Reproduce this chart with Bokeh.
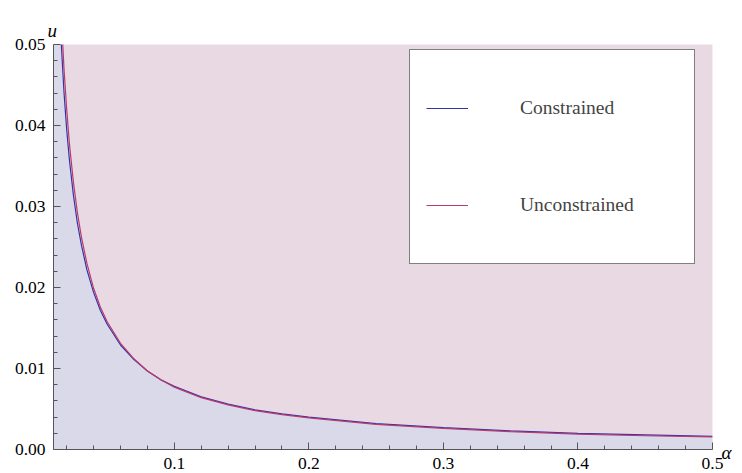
from bokeh.plotting import figure
from bokeh.models import (Range1d, FixedTicker, PrintfTickFormatter, Legend,
                          LegendItem, ColumnDataSource, Title, LinearAxis)
from bokeh.embed import file_html
from bokeh.resources import INLINE

# ---- data ----
alpha = [0.010, 0.012, 0.014, 0.016, 0.018, 0.020, 0.022, 0.025, 0.028, 0.031,
         0.035, 0.040, 0.045, 0.050, 0.060, 0.070, 0.080, 0.090, 0.100, 0.120,
         0.140, 0.160, 0.180, 0.200, 0.250, 0.300, 0.350, 0.400, 0.450, 0.500]
u_constrained = [0.0790, 0.0660, 0.0568, 0.0500, 0.0441, 0.0395, 0.0358, 0.0314,
                 0.0279, 0.0252, 0.0222, 0.0194, 0.0172, 0.0155, 0.0129, 0.0111,
                 0.0097, 0.0086, 0.0078, 0.0065, 0.0056, 0.0049, 0.0044, 0.0040,
                 0.0032, 0.0027, 0.0023, 0.0020, 0.0018, 0.00163]
u_unconstrained = [0.0850, 0.0710, 0.0610, 0.0535, 0.0470, 0.0420, 0.0378, 0.0330,
                   0.0292, 0.0262, 0.0230, 0.0199, 0.0176, 0.0158, 0.0131, 0.0112,
                   0.0097, 0.0086, 0.0077, 0.0064, 0.0055, 0.0048, 0.0043, 0.0039,
                   0.0031, 0.0026, 0.0022, 0.0019, 0.0017, 0.00155]
series_names = ["Constrained", "Unconstrained"]
x_label = "α"
y_label = "u"

x_major_ticks = [0.1, 0.2, 0.3, 0.4, 0.5]
x_minor_ticks = [0.02, 0.04, 0.06, 0.08, 0.12, 0.14, 0.16, 0.18, 0.22, 0.24, 0.26,
                 0.28, 0.32, 0.34, 0.36, 0.38, 0.42, 0.44, 0.46, 0.48]
y_major_ticks = [0.0, 0.01, 0.02, 0.03, 0.04, 0.05]
y_minor_ticks = [0.002, 0.004, 0.006, 0.008, 0.012, 0.014, 0.016, 0.018, 0.022,
                 0.024, 0.026, 0.028, 0.032, 0.034, 0.036, 0.038, 0.042, 0.044,
                 0.046, 0.048]

# ---- styles ----
FONT = "Liberation Serif"
BLUE = "#3333a6"
RED = "#b83a6e"
PINK = "#e9d9e3"
LAVENDER = "#d9d9ea"
AXIS = "#555555"

src = ColumnDataSource(dict(a=alpha, uc=u_constrained, uu=u_unconstrained,
                            zero=[0.0] * len(alpha)))

p = figure(width=742, height=473,
           x_range=Range1d(0.0102, 0.5), y_range=Range1d(0.0, 0.05),
           output_backend="svg", toolbar_location=None,
           min_border_left=53, min_border_right=30, min_border_top=44,
           min_border_bottom=24)
p.background_fill_color = PINK
p.border_fill_color = "white"
p.outline_line_color = None
p.grid.visible = False

p.varea(x="a", y1="zero", y2="uc", source=src, fill_color=LAVENDER, fill_alpha=1.0)
r_c = p.line(x="a", y="uc", source=src, line_color=BLUE, line_width=1.2)
r_u = p.line(x="a", y="uu", source=src, line_color=RED, line_width=1.2)

for ax in (p.xaxis[0], p.yaxis[0]):
    ax.axis_line_color = AXIS
    ax.major_tick_line_color = AXIS
    ax.minor_tick_line_color = AXIS
    ax.major_tick_out = 0
    ax.minor_tick_out = 0
    ax.major_tick_in = 7
    ax.minor_tick_in = 4
    ax.major_label_text_font = FONT
    ax.major_label_text_font_size = "17.5px"
    ax.major_label_text_color = "black"

p.xaxis.ticker = FixedTicker(ticks=x_major_ticks, minor_ticks=x_minor_ticks)
p.yaxis.ticker = FixedTicker(ticks=y_major_ticks, minor_ticks=y_minor_ticks)
p.xaxis.formatter = PrintfTickFormatter(format="%.1f")
p.yaxis.formatter = PrintfTickFormatter(format="%.2f")
p.xaxis.major_label_standoff = 8
p.yaxis.major_label_standoff = 8

# x-axis name placed to the right of the axis end, via a bare right-hand axis
alpha_axis = LinearAxis(ticker=FixedTicker(ticks=[0.0], minor_ticks=[]),
                        major_label_overrides={0: "\n" + x_label},
                        axis_line_color=None, major_tick_line_color=None,
                        minor_tick_line_color=None, major_tick_in=0,
                        major_tick_out=0, minor_tick_in=0, minor_tick_out=0,
                        major_label_standoff=9,
                        major_label_text_font=FONT,
                        major_label_text_font_style="italic",
                        major_label_text_font_size="19px",
                        major_label_text_line_height=0.25,
                        major_label_text_color="black")
p.add_layout(alpha_axis, "right")

legend = Legend(items=[LegendItem(label=series_names[0], renderers=[r_c]),
                       LegendItem(label=series_names[1], renderers=[r_u])],
                location=(356, 185), margin=0, padding=16, spacing=13,
                glyph_width=42, glyph_height=84, label_height=84,
                label_width=158, label_standoff=52,
                label_text_font=FONT, label_text_font_size="19.5px",
                background_fill_color="white", background_fill_alpha=1.0,
                border_line_color="black", border_line_width=1)
p.add_layout(legend)

p.add_layout(Title(text=y_label, align="left", offset=-6, standoff=7,
                   text_font=FONT, text_font_style="italic",
                   text_font_size="19px", text_color="black"), "above")

open("out.html", "w").write(file_html(p, INLINE))
